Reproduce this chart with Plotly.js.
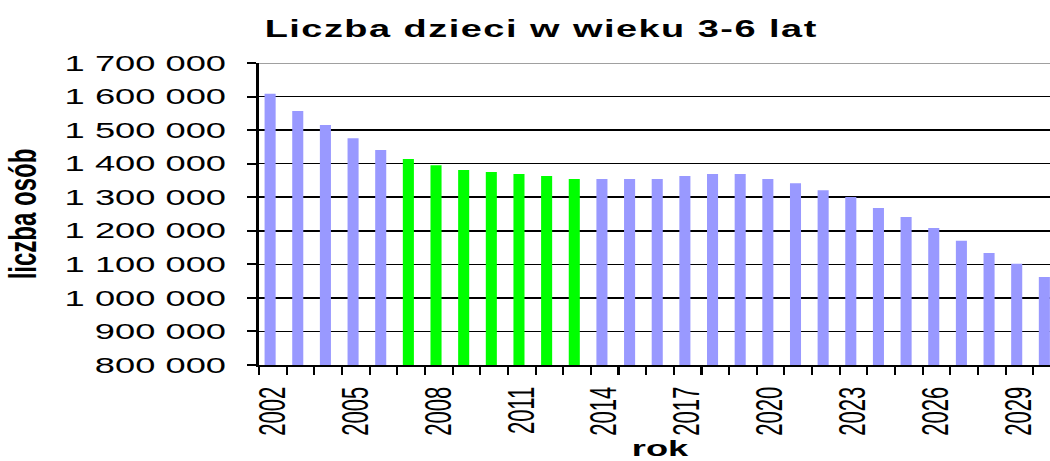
<!DOCTYPE html>
<html>
<head>
<meta charset="utf-8">
<script src="https://cdn.plot.ly/plotly-3.0.1.min.js"></script>
<style>
html,body{margin:0;padding:0;overflow:hidden;width:1050px;height:461px;background:#fff}
#chart{width:660px;height:461px;transform:scaleX(1.65);transform-origin:0 0}
.gtitle{letter-spacing:0.9px}
</style>
</head>
<body>
<div id="chart"></div>
<script>
// Data
const years = [2002,2003,2004,2005,2006,2007,2008,2009,2010,2011,2012,2013,2014,2015,2016,
               2017,2018,2019,2020,2021,2022,2023,2024,2025,2026,2027,2028,2029,2030];
const children = [1608000,1557000,1515000,1476000,1441000,1414000,1395000,1381000,1375000,1369000,
                  1363000,1354000,1354000,1354000,1354000,1363000,1369000,1369000,1354000,1342000,
                  1321000,1301000,1268000,1241000,1208000,1170000,1134000,1102000,1062000];
const highlightedYears = [2007,2008,2009,2010,2011,2012,2013];

const titleText = 'Liczba dzieci w wieku 3-6 lat';
const xTitle = 'rok';
const yTitle = 'liczba osób';

const baseColor = '#9999FF';
const highlightColor = '#00FF00';
const colors = years.map(y => highlightedYears.includes(y) ? highlightColor : baseColor);

const trace = {
  type: 'bar',
  x: years,
  y: children,
  marker: {color: colors, line: {width: 0}},
  width: 0.4,
  offset: -0.3,
  hoverinfo: 'skip'
};

const font = 'Liberation Sans, Arial, sans-serif';

const layout = {
  width: 660,
  height: 461,
  margin: {l: 157, r: 16.5, t: 63, b: 96},
  paper_bgcolor: '#ffffff',
  plot_bgcolor: '#ffffff',
  separators: ', ',
  showlegend: false,
  title: {
    text: titleText,
    font: {family: font, size: 23, color: '#000', weight: 'bold'},
    xref: 'container', x: 0.497, xanchor: 'center',
    yref: 'container', y: 0.937, yanchor: 'middle'
  },
  xaxis: {
    type: 'linear',
    range: [2001.5, 2030.5],
    tick0: 2002, dtick: 3,
    tickformat: 'd',
    tickangle: -90,
    ticks: 'outside', ticklen: 8, tickcolor: 'rgba(0,0,0,0)',
    ticklabelstandoff: 3,
    tickfont: {family: font, size: 22, color: '#000'},
    minor: {ticks: 'outside', ticklen: 8, tickwidth: 1.3, tickcolor: '#000', tick0: 2001.5, dtick: 1, showgrid: false},
    showgrid: false, zeroline: false,
    showline: true, linecolor: '#000', linewidth: 2,
    title: {text: xTitle, font: {family: font, size: 22, color: '#000', weight: 'bold'}, standoff: 11},
    automargin: false, fixedrange: true
  },
  yaxis: {
    range: [800000, 1700000],
    dtick: 100000, tick0: 800000,
    tickformat: ',d',
    ticks: 'outside', ticklen: 6, tickwidth: 2, tickcolor: '#000',
    ticklabelstandoff: 8,
    tickfont: {family: font, size: 22, color: '#000'},
    showgrid: true, gridcolor: '#000', gridwidth: 1.6,
    zeroline: false,
    showline: true, linecolor: '#000', linewidth: 1.6,
    title: {text: yTitle, font: {family: font, size: 24, color: '#000', weight: 'bold'}, standoff: 11},
    automargin: false, fixedrange: true
  },
  shapes: [{
    type: 'line', xref: 'paper', yref: 'y', x0: 0, x1: 1, y0: 1700000, y1: 1700000,
    line: {color: '#808080', width: 1.6}
  }]
};

Plotly.newPlot('chart', [trace], layout, {displayModeBar: false, staticPlot: true, responsive: false});
</script>
</body>
</html>
